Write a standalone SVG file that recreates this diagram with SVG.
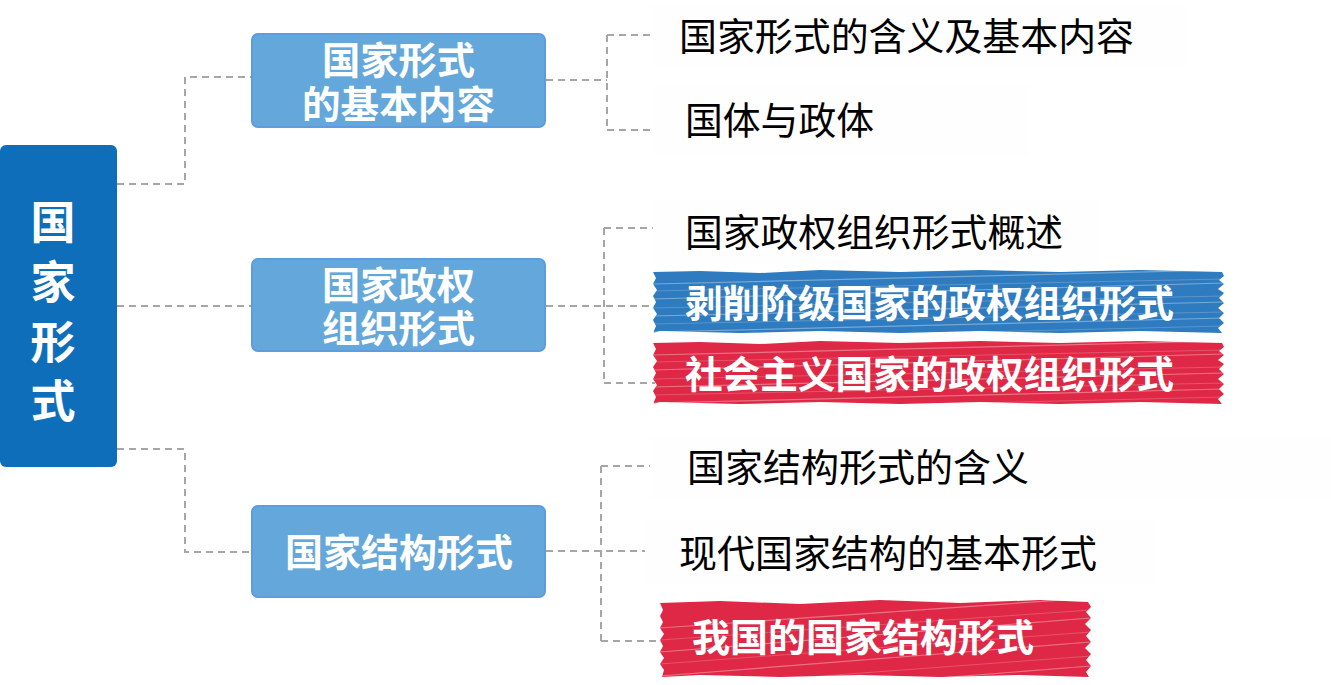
<svg xmlns="http://www.w3.org/2000/svg" width="1331" height="685" viewBox="0 0 1331 685">
<defs>
<style>
.conn{fill:none;stroke:#A6A6A6;stroke-width:2;stroke-dasharray:7 5}
.root{fill:#0F6EBA}
.mid{fill:#64A7DB;stroke:#5E9BE0;stroke-width:2}
.wt{fill:#FFFFFF;font-family:"Noto Sans CJK SC","Noto Sans",sans-serif;font-weight:bold}
.lt{fill:#000000;font-family:"Noto Sans CJK SC","Noto Sans",sans-serif;font-size:38px}
.bt{fill:#FFFFFF;font-family:"Noto Sans CJK SC","Noto Sans",sans-serif;font-weight:bold;font-size:38px}
.bg{fill:#FEFEFE}
.streak{stroke:#FFFFFF;stroke-width:1.2;opacity:0.35;fill:none}
.streak2{stroke:#FFFFFF;stroke-width:0.8;opacity:0.25;fill:none}
</style>
<clipPath id="c1"><rect x="653" y="270" width="571" height="63" rx="3"/></clipPath>
<clipPath id="c2"><rect x="653" y="341" width="571" height="63" rx="3"/></clipPath>
<clipPath id="c3"><rect x="660" y="600" width="431" height="77" rx="3"/></clipPath>
</defs>
<rect width="1331" height="685" fill="#FFFFFF"/>

<g id="connectors">
<path class="conn" d="M117,184 H185 V77 H251"/>
<path class="conn" d="M117,306 H251"/>
<path class="conn" d="M117,449 H185 V552 H251"/>
<path class="conn" d="M546,80 H607"/>
<path class="conn" d="M607,35 V130"/>
<path class="conn" d="M607,35 H672"/>
<path class="conn" d="M607,130 H668"/>
<path class="conn" d="M546,306 H655"/>
<path class="conn" d="M604,228 V383"/>
<path class="conn" d="M604,228 H655"/>
<path class="conn" d="M604,383 H655"/>
<path class="conn" d="M546,551 H662"/>
<path class="conn" d="M601,466 V641"/>
<path class="conn" d="M601,466 H655"/>
<path class="conn" d="M601,641 H662"/>
</g>

<g id="root">
<rect class="root" x="0" y="145" width="117" height="322" rx="6"/>
<text class="wt" font-size="45" text-anchor="middle" x="53"><tspan x="53" y="239">国</tspan><tspan x="53" y="299">家</tspan><tspan x="53" y="359">形</tspan><tspan x="53" y="418">式</tspan></text>
</g>

<g id="mid1">
<rect class="mid" x="252" y="34" width="293" height="93" rx="6"/>
<text class="wt" font-size="38"><tspan x="322" y="74" textLength="153" lengthAdjust="spacingAndGlyphs">国家形式</tspan><tspan x="302" y="118" textLength="193" lengthAdjust="spacingAndGlyphs">的基本内容</tspan></text>
</g>
<g id="mid2">
<rect class="mid" x="252" y="259" width="293" height="92" rx="6"/>
<text class="wt" font-size="38"><tspan x="322" y="299" textLength="153" lengthAdjust="spacingAndGlyphs">国家政权</tspan><tspan x="322" y="342" textLength="153" lengthAdjust="spacingAndGlyphs">组织形式</tspan></text>
</g>
<g id="mid3">
<rect class="mid" x="252" y="506" width="293" height="91" rx="6"/>
<text class="wt" font-size="38" x="285" y="566" textLength="228" lengthAdjust="spacingAndGlyphs">国家结构形式</text>
</g>

<g id="leaf1">
<rect class="bg" x="650" y="5" width="538" height="61"/>
<text class="lt" x="679" y="50" textLength="455" lengthAdjust="spacingAndGlyphs">国家形式的含义及基本内容</text>
</g>
<g id="leaf2">
<rect class="bg" x="655" y="85" width="375" height="72"/>
<text class="lt" x="685" y="134" textLength="189" lengthAdjust="spacingAndGlyphs">国体与政体</text>
</g>
<g id="leaf3">
<rect class="bg" x="653" y="200" width="447" height="63"/>
<text class="lt" x="685" y="246" textLength="378" lengthAdjust="spacingAndGlyphs">国家政权组织形式概述</text>
</g>

<g id="leaf4">
<g clip-path="url(#c1)">
<path fill="#2E7BC0" d="M653,272 L700,271 L760,273 L820,270 L900,272 L980,270 L1060,272 L1140,270 L1222,272 L1224,276 L1219,280 L1224,284 L1218,289 L1224,293 L1219,298 L1224,303 L1218,308 L1224,313 L1219,318 L1224,323 L1218,328 L1222,333 L1140,331 L1060,333 L980,331 L900,333 L820,331 L740,333 L660,331 L653,333 L656,326 L653,320 L657,314 L653,308 L656,302 L653,296 L657,290 L653,284 L656,278 Z"/>
<path class="streak" d="M653,284 L1224,270"/>
<path class="streak2" d="M653,291 L1224,279"/>
<path class="streak" d="M653,299 L1224,283"/>
<path class="streak2" d="M653,308 L1224,296"/>
<path class="streak" d="M653,316 L1224,302"/>
<path class="streak2" d="M653,324 L1224,312"/>
<path class="streak" d="M653,332 L1224,318"/>
<path class="streak2" d="M653,340 L1224,326"/>
</g>
<text class="bt" x="685" y="317" textLength="489" lengthAdjust="spacingAndGlyphs">剥削阶级国家的政权组织形式</text>
</g>

<g id="leaf5">
<g clip-path="url(#c2)">
<path fill="#DF2846" d="M653,343 L700,342 L760,344 L820,341 L900,343 L980,341 L1060,343 L1140,341 L1222,343 L1224,347 L1219,351 L1224,355 L1218,360 L1224,364 L1219,369 L1224,374 L1218,379 L1224,384 L1219,389 L1224,394 L1218,399 L1222,404 L1140,402 L1060,404 L980,402 L900,404 L820,402 L740,404 L660,402 L653,404 L656,397 L653,391 L657,385 L653,379 L656,373 L653,367 L657,361 L653,355 L656,349 Z"/>
<path class="streak" d="M653,355 L1224,341"/>
<path class="streak2" d="M653,362 L1224,350"/>
<path class="streak" d="M653,370 L1224,354"/>
<path class="streak2" d="M653,379 L1224,367"/>
<path class="streak" d="M653,387 L1224,373"/>
<path class="streak2" d="M653,395 L1224,383"/>
<path class="streak" d="M653,403 L1224,389"/>
<path class="streak2" d="M653,411 L1224,397"/>
</g>
<text class="bt" x="685" y="388" textLength="489" lengthAdjust="spacingAndGlyphs">社会主义国家的政权组织形式</text>
</g>

<g id="leaf6">
<rect class="bg" x="650" y="437" width="681" height="63"/>
<text class="lt" x="687" y="481" textLength="342" lengthAdjust="spacingAndGlyphs">国家结构形式的含义</text>
</g>
<g id="leaf7">
<rect class="bg" x="645" y="521" width="510" height="64"/>
<text class="lt" x="679" y="567" textLength="418" lengthAdjust="spacingAndGlyphs">现代国家结构的基本形式</text>
</g>

<g id="leaf8">
<g clip-path="url(#c3)">
<path fill="#DF2846" d="M660,603 L720,601 L800,604 L880,600 L960,603 L1040,600 L1088,602 L1091,607 L1086,612 L1091,618 L1085,624 L1091,630 L1086,636 L1091,642 L1085,648 L1091,654 L1086,660 L1091,666 L1086,672 L1089,677 L1020,675 L940,677 L860,675 L780,677 L700,675 L662,677 L664,670 L660,664 L664,658 L660,652 L663,646 L660,640 L664,634 L660,628 L663,622 L660,616 L663,610 Z"/>
<path class="streak" d="M660,628 L1091,598"/>
<path class="streak2" d="M660,640 L1091,610"/>
<path class="streak" d="M660,652 L1091,618"/>
<path class="streak2" d="M660,664 L1091,632"/>
<path class="streak" d="M660,676 L1091,642"/>
<path class="streak2" d="M660,688 L1091,656"/>
<path class="streak" d="M660,700 L1091,666"/>
</g>
<text class="bt" x="692" y="651" textLength="342" lengthAdjust="spacingAndGlyphs">我国的国家结构形式</text>
</g>
</svg>
